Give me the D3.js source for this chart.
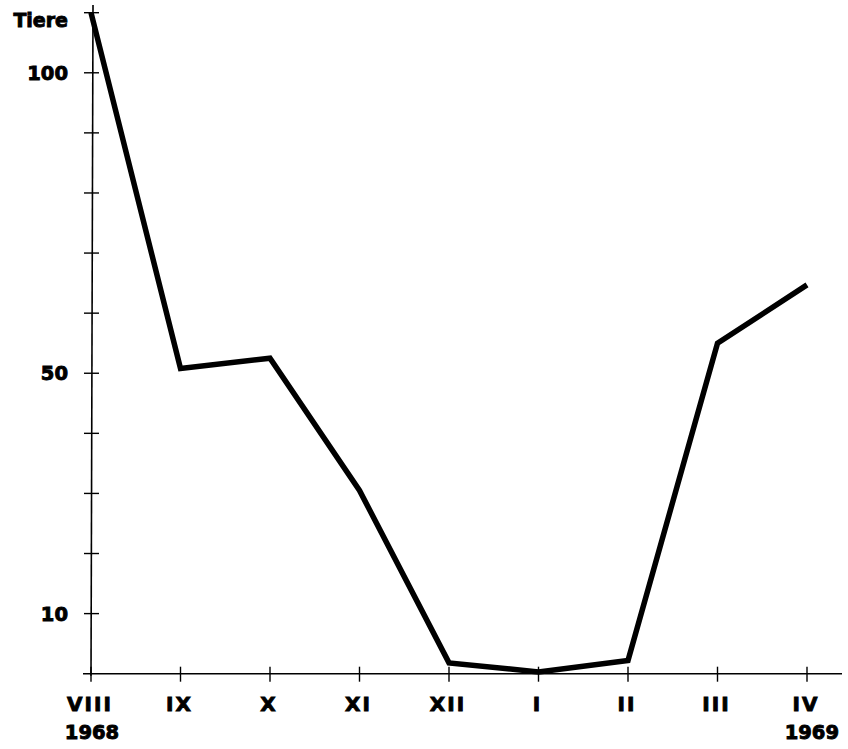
<!DOCTYPE html>
<html><head><meta charset="utf-8">
<script src="https://cdn.jsdelivr.net/npm/d3@7"></script>
<style>body{margin:0;background:#fff}text{font-family:"DejaVu Sans",sans-serif;font-weight:bold;fill:#000;stroke:#000;stroke-width:0.9px}</style>
</head><body>
<svg id="c" width="848" height="749"></svg>
<script>
const months = ["VIII","IX","X","XI","XII","I","II","III","IV"];
const values = [110, 50.8, 52.5, 30.5, 1.8, 0.3, 2.2, 55, 64.7];
const yTicks = [10,20,30,40,50,60,70,80,90,100,110];
const yLabels = [10,50,100];
const years = ["1968","1969"];

const svg = d3.select("#c");
const x = d3.scaleLinear().domain([0, months.length-1]).range([91, 807]);
const y = d3.scaleLinear().domain([0, 110]).range([673.7, 12.7]);

svg.append("line").attr("x1",x(0)+2).attr("x2",x(0)).attr("y1",5).attr("y2",y(0)+2)
  .attr("stroke","#000").attr("stroke-width",1.6);
svg.append("line").attr("x1",83).attr("x2",842).attr("y1",y(0)).attr("y2",y(0))
  .attr("stroke","#000").attr("stroke-width",1.6);

svg.selectAll(".yt").data(yTicks).enter().append("line")
  .attr("x1",x(0)-7).attr("x2",x(0)+8)
  .attr("y1",d=>y(d)).attr("y2",d=>y(d))
  .attr("stroke","#000").attr("stroke-width",1.4);
svg.selectAll(".xt").data(months).enter().append("line")
  .attr("x1",(d,i)=>x(i)).attr("x2",(d,i)=>x(i))
  .attr("y1",y(0)-7).attr("y2",y(0)+8)
  .attr("stroke","#000").attr("stroke-width",1.4);

svg.selectAll(".yl").data(yLabels).enter().append("text")
  .attr("x",68).attr("y",d=>y(d)+7).attr("text-anchor","end")
  .attr("font-size",19.5).text(d=>d);
svg.append("text").attr("x",68).attr("y",27).attr("text-anchor","end")
  .attr("font-size",19).text("Tiere");

svg.selectAll(".xl").data(months).enter().append("text")
  .attr("x",(d,i)=>x(i)-1).attr("y",711).attr("text-anchor","middle")
  .attr("font-size",20).attr("letter-spacing",2).text(d=>d);
svg.append("text").attr("x",x(0)+1).attr("y",739).attr("text-anchor","middle")
  .attr("font-size",19.5).text(years[0]);
svg.append("text").attr("x",839).attr("y",739).attr("text-anchor","end")
  .attr("font-size",19.5).text(years[1]);

const line = d3.line().x((d,i)=>x(i)).y(d=>y(d));
svg.append("path").datum(values).attr("d",line)
  .attr("fill","none").attr("stroke","#000").attr("stroke-width",5.5)
  .attr("stroke-linejoin","miter").attr("stroke-linecap","butt");
</script>
</body></html>
